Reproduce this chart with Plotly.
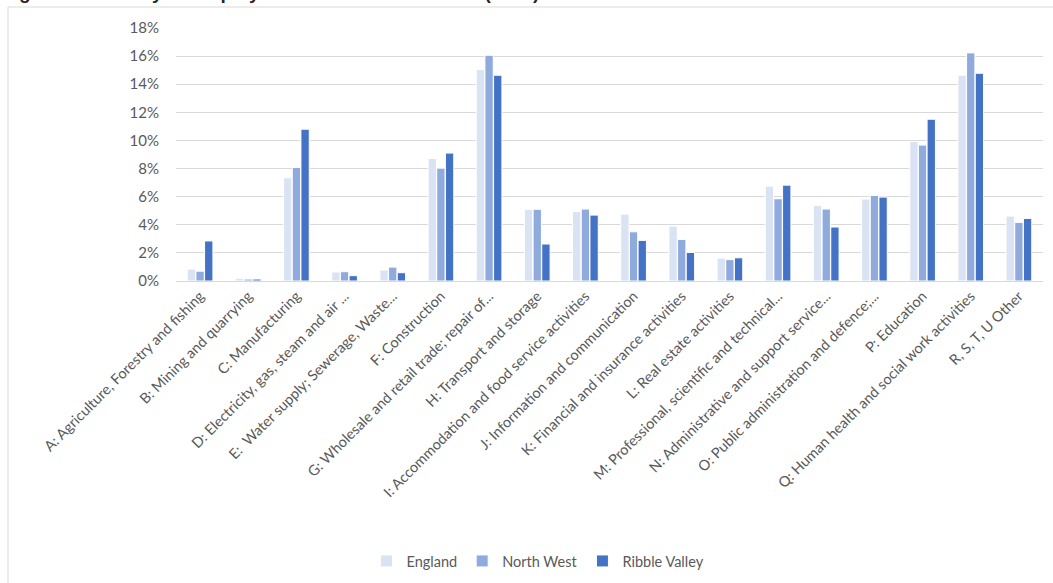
import plotly.graph_objects as go

categories = [
    "A: Agriculture, Forestry and fishing",
    "B: Mining and quarrying",
    "C: Manufacturing",
    "D: Electricity, gas, steam and air ...",
    "E:  Water supply; Sewerage, Waste...",
    "F: Construction",
    "G: Wholesale and retail trade; repair of...",
    "H: Transport and storage",
    "I: Accommodation and food service activities",
    "J: Information and communication",
    "K: Financial and insurance activities",
    "L: Real estate activities",
    "M: Professional, scientific and technical...",
    "N: Administrative and support service...",
    "O: Public administration and defence;...",
    "P: Education",
    "Q: Human health and social work activities",
    "R, S, T, U Other",
]

england = [0.85, 0.19, 7.34, 0.64, 0.78, 8.72, 15.05, 5.10, 4.95, 4.76, 3.91, 1.63, 6.75, 5.38, 5.83, 9.93, 14.64, 4.62]
north_west = [0.70, 0.14, 8.08, 0.66, 0.99, 8.03, 16.06, 5.10, 5.12, 3.50, 2.96, 1.52, 5.85, 5.12, 6.09, 9.67, 16.23, 4.17]
ribble_valley = [2.85, 0.14, 10.80, 0.38, 0.59, 9.10, 14.64, 2.63, 4.69, 2.89, 2.03, 1.65, 6.82, 3.84, 5.97, 11.51, 14.78, 4.45]

series_names = ["England", "North West", "Ribble Valley"]
series_colors = ["#DAE3F3", "#8FAADC", "#4472C4"]
tick_vals = [0, 2, 4, 6, 8, 10, 12, 14, 16, 18]
tick_text = [f"{v}%" for v in tick_vals]
title_text = "Figure 6: Industry of Employment of Local Residents (2021)"

W, H = 1053, 583
L, R, T, B = 176, 10, 28, 302

fig = go.Figure()
for name, vals, col in zip(series_names, [england, north_west, ribble_valley], series_colors):
    fig.add_trace(go.Bar(
        x=categories, y=vals, name=name,
        marker=dict(color=col, line=dict(color="white", width=1)),
    ))

pw = W - L - R
ph = H - T - B
def px_x(p):
    return (p - L) / pw
def px_y(p):
    return (H - B - p) / ph

font_family = "Lato, 'Open Sans', sans-serif"
fig.update_layout(
    width=W, height=H,
    margin=dict(l=L, r=R, t=T, b=B, pad=0, autoexpand=False),
    paper_bgcolor="white", plot_bgcolor="white",
    barmode="group", bargap=0.46, bargroupgap=0.04,
    font=dict(family=font_family, color="#595959", size=14),
    showlegend=True,
    legend=dict(orientation="h", xref="container", yref="container",
                x=538 / W, xanchor="center", y=(H - 561) / H,
                yanchor="middle", font=dict(size=14.5, color="#595959"),
                itemwidth=30, traceorder="normal"),
    xaxis=dict(tickangle=-45, tickfont=dict(size=14.5, color="#595959"),
               showgrid=False, showline=True, linecolor="#D9D9D9", linewidth=1,
               ticks="", automargin=False),
    yaxis=dict(range=[0, 18], tickvals=tick_vals, ticktext=tick_text,
               tickfont=dict(size=15, color="#595959"),
               showgrid=True, gridcolor="#D9D9D9", gridwidth=1,
               zeroline=False, showline=False, ticks="", automargin=False,
               ticklabelstandoff=16),
)

fig.add_shape(type="rect", xref="paper", yref="paper",
              x0=px_x(8), x1=px_x(1060), y0=px_y(7), y1=px_y(600),
              line=dict(color="#D9D9D9", width=1), fillcolor="rgba(0,0,0,0)", layer="below")

fig.add_annotation(text=f"<b>{title_text}</b>", xref="paper", yref="paper",
                   x=px_x(0), y=px_y(5), xanchor="left", yanchor="bottom",
                   showarrow=False, font=dict(family="Liberation Sans, Arial, sans-serif", size=19, color="#262626"))

fig.write_html("out.html")
